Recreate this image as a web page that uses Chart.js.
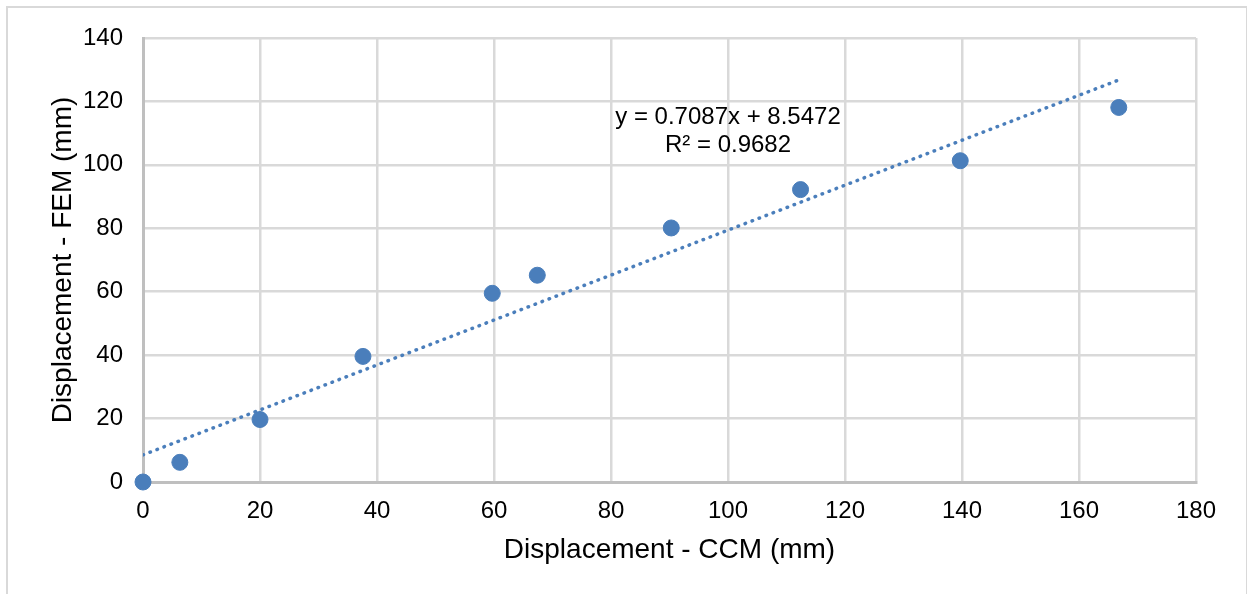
<!DOCTYPE html>
<html>
<head>
<meta charset="utf-8">
<script src="https://cdn.jsdelivr.net/npm/chart.js@4.4.1/dist/chart.umd.min.js"></script>
<style>
  html, body { margin: 0; padding: 0; background: #fff; }
  #frame { position: absolute; left: 6px; top: 6px; width: 1238px; height: 620px; border: 2px solid #d9d9d9; }
  #wrap { position: absolute; left: 0; top: 0; width: 1247px; height: 594px; }
</style>
</head>
<body>
<div id="frame"></div>
<div id="wrap"><canvas id="chart"></canvas></div>
<script>
// values
const ccm = [0, 6.3, 20, 37.6, 59.7, 67.4, 90.3, 112.4, 139.7, 166.8];
const fem = [0, 6.2, 19.7, 39.6, 59.5, 65.2, 80.1, 92.2, 101.3, 118.1];

// trendline as printed on the chart
const slope = 0.7087;
const intercept = 8.5472;
const eqLines = ['y = 0.7087x + 8.5472', 'R\u00b2 = 0.9682'];
const eqAt = { x: 100, y: [115, 106.2] };

const xTitle = 'Displacement - CCM (mm)';
const yTitle = 'Displacement - FEM (mm)';

const blue = '#4a7ebb';
const font = "'Liberation Sans', Arial, sans-serif";

const trendX = [Math.min(...ccm), Math.max(...ccm)];

const eqLabel = {
    id: 'eqLabel',
    afterDatasetsDraw(chart) {
        const { ctx, scales: { x, y } } = chart;
        ctx.save();
        ctx.font = '24px ' + font;
        ctx.fillStyle = '#000';
        ctx.textAlign = 'center';
        ctx.textBaseline = 'middle';
        eqLines.forEach((t, i) => ctx.fillText(t, x.getPixelForValue(eqAt.x), y.getPixelForValue(eqAt.y[i])));
        ctx.restore();
    }
};

new Chart(document.getElementById('chart'), {
    type: 'scatter',
    data: {
        datasets: [{
            label: 'FEM vs CCM',
            data: ccm.map((v, i) => ({ x: v, y: fem[i] })),
            backgroundColor: blue,
            borderColor: blue,
            pointRadius: 8,
            pointHoverRadius: 8,
            clip: false,
            order: 1
        }, {
            type: 'line',
            label: 'Linear trend',
            data: trendX.map(v => ({ x: v, y: slope * v + intercept })),
            borderColor: blue,
            borderWidth: 3.5,
            borderDash: [0.5, 7],
            borderCapStyle: 'round',
            pointRadius: 0,
            fill: false,
            order: 0
        }]
    },
    options: {
        responsive: true,
        maintainAspectRatio: false,
        animation: false,
        layout: { padding: { left: 20, top: 38, right: 51, bottom: 20 } },
        plugins: {
            legend: { display: false },
            tooltip: { enabled: false }
        },
        scales: {
            x: {
                type: 'linear',
                min: 0, max: 180,
                ticks: { stepSize: 20, color: '#000', font: { family: font, size: 24 }, padding: 15 },
                grid: { color: '#d9d9d9', lineWidth: 2.5, drawTicks: false },
                border: { color: '#bfbfbf', width: 3 },
                title: { display: true, text: xTitle, color: '#000', font: { family: font, size: 28 }, padding: { top: 0, bottom: 7 } },
                afterFit: s => { s.height = 594 - 482 - 20; }
            },
            y: {
                min: 0, max: 140,
                ticks: { stepSize: 20, color: '#000', font: { family: font, size: 24 }, padding: 20 },
                grid: { color: '#d9d9d9', lineWidth: 2.5, drawTicks: false },
                border: { color: '#bfbfbf', width: 3 },
                title: { display: true, text: yTitle, color: '#000', font: { family: font, size: 28 }, padding: { top: 26, bottom: 0 } },
                afterFit: s => { s.width = 143 - 20; }
            }
        }
    },
    plugins: [eqLabel]
});
</script>
</body>
</html>
